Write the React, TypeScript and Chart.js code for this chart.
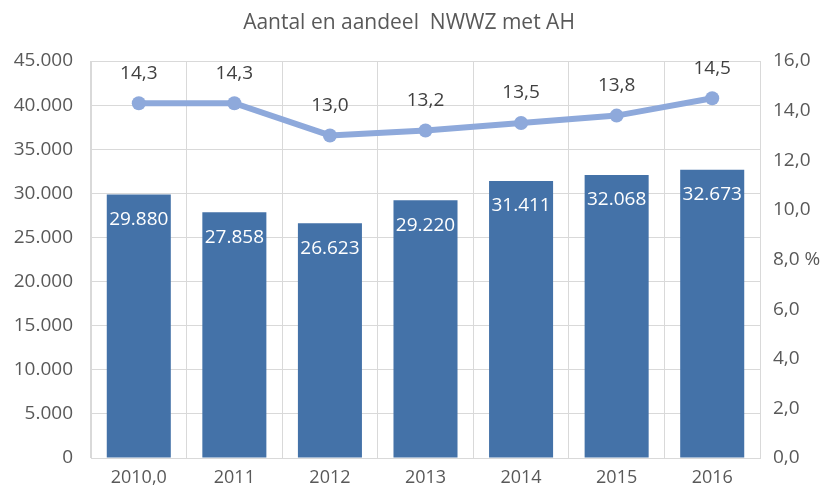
import React, { useEffect, useRef } from "react";
import { Chart, registerables } from "chart.js";

Chart.register(...registerables);

const categories = ["2010,0", "2011", "2012", "2013", "2014", "2015", "2016"];
const aantal = [29880, 27858, 26623, 29220, 31411, 32068, 32673];
const aandeel = [14.3, 14.3, 13.0, 13.2, 13.5, 13.8, 14.5];
const title = "Aantal en aandeel  NWWZ met AH";

const FONT = "'Open Sans', 'Noto Sans', sans-serif";
const TEXT = "#595959";
const GRID = "#D9D9D9";

const fmtThousands = (v: number) =>
  Math.round(v).toString().replace(/\B(?=(\d{3})+(?!\d))/g, ".");
const fmtDec = (v: number) => v.toFixed(1).replace(".", ",");

const labelsPlugin = {
  id: "customLabels",
  afterDatasetsDraw(chart: any) {
    const ctx = chart.ctx;
    ctx.save();
    ctx.textAlign = "center";
    ctx.textBaseline = "middle";
    const barMeta = chart.getDatasetMeta(1);
    ctx.font = `19px ${FONT}`;
    ctx.fillStyle = "#FFFFFF";
    barMeta.data.forEach((el: any, i: number) => {
      ctx.fillText(fmtThousands(aantal[i]), el.x, el.y + 25);
    });
    const lineMeta = chart.getDatasetMeta(0);
    ctx.fillStyle = "#404040";
    lineMeta.data.forEach((el: any, i: number) => {
      ctx.fillText(fmtDec(aandeel[i]), el.x, el.y - 30);
    });
    ctx.font = `21px ${FONT}`;
    ctx.fillStyle = TEXT;
    ctx.fillText(title, 409, 23);
    ctx.restore();
  },
};

export default function App() {
  const ref = useRef<HTMLCanvasElement>(null);
  useEffect(() => {
    document.body.style.margin = "0";
    const chart = new Chart(ref.current!, {
      type: "bar",
      data: {
        labels: categories,
        datasets: [
          {
            type: "line",
            data: aandeel,
            yAxisID: "y1",
            borderColor: "#8EA9DB",
            backgroundColor: "#8EA9DB",
            borderWidth: 6,
            pointRadius: 7,
            pointBorderWidth: 0,
            pointBackgroundColor: "#8EA9DB",
            tension: 0,
            order: 0,
          } as any,
          {
            type: "bar",
            data: aantal,
            yAxisID: "y",
            backgroundColor: "#4472A8",
            categoryPercentage: 0.67,
            barPercentage: 1,
            order: 1,
          },
        ],
      },
      options: {
        responsive: false,
        animation: false,
        layout: { padding: { top: 61, left: 0, right: 0, bottom: 0 } },
        plugins: {
          legend: { display: false },
          tooltip: { enabled: false },
          title: { display: false },
        },
        scales: {
          x: {
            offset: true,
            grid: { color: GRID, lineWidth: 1, offset: true, drawTicks: false },
            border: { color: GRID },
            ticks: {
              color: TEXT,
              font: { family: FONT, size: 18 },
              padding: 9,
              maxRotation: 0,
            },
            afterFit: (s: any) => {
              s.height = 40;
            },
          },
          y: {
            position: "left",
            min: 0,
            max: 45000,
            grid: { color: GRID, lineWidth: 1, drawTicks: false },
            border: { color: GRID },
            ticks: {
              stepSize: 5000,
              color: TEXT,
              font: { family: FONT, size: 19 },
              padding: 18,
              callback: (v: any) => fmtThousands(Number(v)),
            },
            afterFit: (s: any) => {
              s.width = 91;
            },
          },
          y1: {
            position: "right",
            min: 0,
            max: 16,
            grid: { display: false, drawTicks: false },
            border: { color: GRID },
            ticks: {
              stepSize: 2,
              color: TEXT,
              font: { family: FONT, size: 19 },
              padding: 13,
              callback: (v: any) =>
                Number(v) === 8 ? fmtDec(Number(v)) + " %" : fmtDec(Number(v)),
            },
            afterFit: (s: any) => {
              s.width = 72;
            },
          },
        },
      },
      plugins: [labelsPlugin],
    });
    return () => chart.destroy();
  }, []);
  return (
    <div style={{ width: 832, height: 498, background: "#fff" }}>
      <canvas ref={ref} width={832} height={498} />
    </div>
  );
}
